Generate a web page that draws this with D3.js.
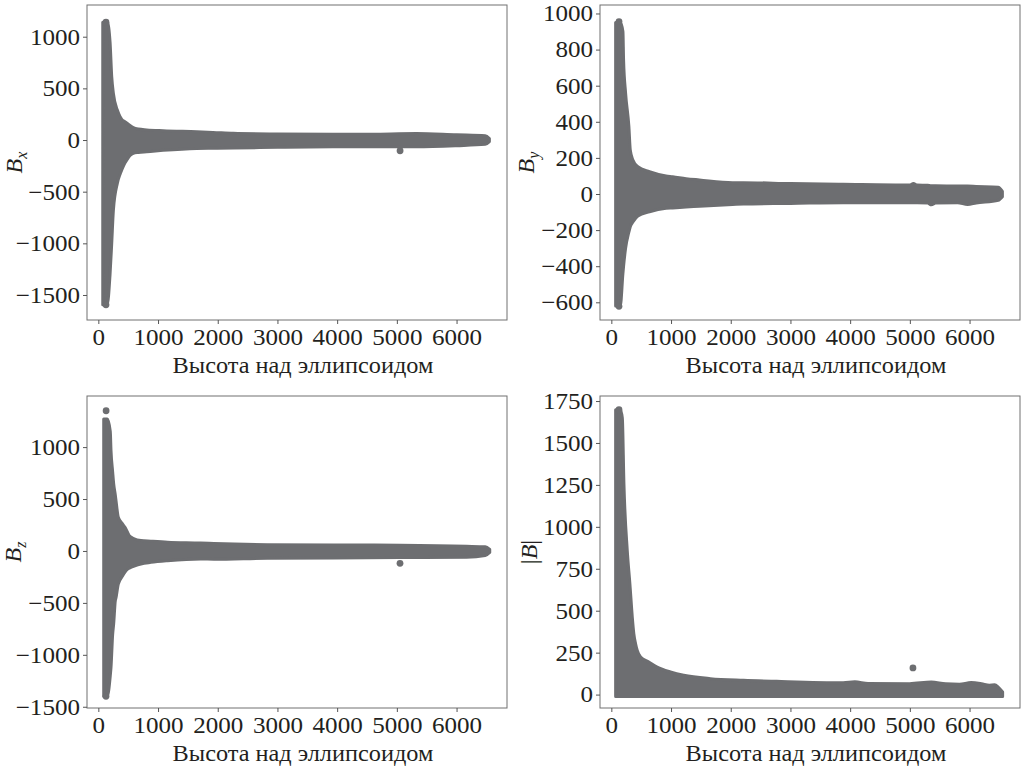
<!DOCTYPE html>
<html>
<head>
<meta charset="utf-8">
<script src="https://cdn.jsdelivr.net/npm/d3@7"></script>
<style>
  body { margin: 0; background: #fff; }
  svg text { font-family: "Liberation Serif", "Times New Roman", serif; fill: #231f20; }
</style>
</head>
<body>
<svg id="fig" width="1023" height="768"></svg>
<script>
// altitude ticks (shared by all panels)
const xTicks = [0, 1000, 2000, 3000, 4000, 5000, 6000];

// Bx: outer envelope of the point cloud
const bxH  = [74, 150, 196, 224, 252, 318, 364, 392, 447, 476, 531, 586, 670, 811, 1084, 1648, 1920, 2260, 3000, 3930, 4600, 5330, 6000, 6480, 6550];
const bxHi = [1140, 1140, 950, 613, 452, 290, 226, 200, 177, 165, 140, 120, 106, 98, 90, 80, 74, 65, 58, 55, 57, 62, 50, 42, 15];
const bxLo = [-1595, -1590, -1300, -1000, -678, -419, -330, -290, -220, -194, -150, -129, -120, -113, -100, -82, -80, -78, -70, -65, -65, -65, -55, -42, -15];
// single points standing out of the cloud
const bxDotH = [128, 128, 5054];
const bxDotV = [1140, -1595, -104];
const bxTicks = [-1500, -1000, -500, 0, 500, 1000];

// By
const byH  = [72, 150, 194, 205, 239, 294, 317, 361, 444, 639, 917, 1028, 1252, 1474, 2030, 2214, 3000, 3883, 4997, 5060, 5120, 5300, 5360, 5430, 5800, 5967, 6110, 6480, 6550];
const byHi = [950, 950, 900, 742, 558, 373, 244, 188, 151, 124, 100, 96, 85, 78, 63, 63, 58, 54, 50, 58, 50, 48, 46, 46, 44, 44, 42, 38, 15];
const byLo = [-620, -620, -440, -400, -300, -210, -181, -155, -122, -98, -79, -77, -72, -68, -58, -55, -52, -48, -48, -48, -48, -50, -60, -50, -48, -58, -50, -35, -15];
const byDotH = [128, 128];
const byDotV = [955, -622];
const byTicks = [-600, -400, -200, 0, 200, 400, 600, 800, 1000];

// Bz
const bzH  = [90, 150, 200, 212, 240, 257, 284, 296, 334, 407, 424, 462, 518, 546, 601, 713, 880, 1159, 1714, 1937, 2828, 3940, 5052, 6167, 6480, 6556];
const bzHi = [1270, 1270, 1150, 967, 760, 646, 540, 485, 325, 260, 245, 212, 148, 135, 116, 100, 94, 85, 77, 72, 61, 58, 55, 45, 40, 15];
const bzLo = [-1400, -1400, -1200, -1121, -800, -700, -479, -450, -318, -240, -222, -190, -165, -157, -145, -125, -110, -94, -77, -80, -70, -67, -64, -61, -45, -15];
const bzDotH = [130, 128, 5053];
const bzDotV = [1350, -1400, -119];
const bzTicks = [-1500, -1000, -500, 0, 500, 1000];

// |B|
const bmH  = [72, 150, 184, 211, 267, 311, 351, 377, 406, 434, 489, 628, 768, 990, 1212, 1658, 2214, 2770, 3883, 4079, 4300, 4997, 5359, 5600, 5831, 6027, 6200, 6332, 6420, 6480, 6554];
const bmHi = [1698, 1698, 1649, 1253, 857, 659, 461, 362, 303, 263, 224, 194, 164, 135, 115, 95, 85, 79, 71, 76, 66, 65, 75, 64, 62, 72, 65, 56, 58, 45, 16];
const bmLo = [-12, -12, -12, -12, -12, -12, -12, -12, -12, -12, -12, -12, -12, -12, -12, -12, -12, -12, -12, -12, -12, -12, -12, -12, -12, -12, -12, -12, -12, -12, -12];
const bmDotH = [128, 5052];
const bmDotV = [1698, 159];
const bmTicks = [0, 250, 500, 750, 1000, 1250, 1500, 1750];

const xTitle = 'Высота над эллипсоидом';
const pointColor = '#6d6e71';

const panels = [
  { h: bxH, hi: bxHi, lo: bxLo, dh: bxDotH, dv: bxDotV, ticks: bxTicks, yDomain: [-1742, 1307], sym: 'B', sub: 'x', box: [87, 5, 420, 315], labelX: 22 },
  { h: byH, hi: byHi, lo: byLo, dh: byDotH, dv: byDotV, ticks: byTicks, yDomain: [-698, 1047], sym: 'B', sub: 'y', box: [600, 5, 420, 315], labelX: 534 },
  { h: bzH, hi: bzHi, lo: bzLo, dh: bzDotH, dv: bzDotV, ticks: bzTicks, yDomain: [-1512, 1492], sym: 'B', sub: 'z', box: [87, 396, 420, 312], labelX: 21 },
  { h: bmH, hi: bmHi, lo: bmLo, dh: bmDotH, dv: bmDotV, ticks: bmTicks, yDomain: [-80, 1780], sym: '|B|', sub: null, box: [600, 396, 420, 312], labelX: 537 }
];

const svg = d3.select('#fig');
const fmt = d3.format('d');

// the printed glyphs are a bit wider than Liberation Serif
function widen(sel, k) {
  sel.each(function () {
    const n = this.getComputedTextLength();
    d3.select(this).attr('textLength', n * k).attr('lengthAdjust', 'spacingAndGlyphs');
  });
}

panels.forEach(p => {
  const [left, top, w, h] = p.box;
  const g = svg.append('g').attr('transform', `translate(${left},${top})`);

  const x = d3.scaleLinear().domain([-190, 6845]).range([0, w]);
  const y = d3.scaleLinear().domain(p.yDomain).range([h, 0]);

  const rows = p.h.map((v, i) => ({ h: v, hi: p.hi[i], lo: p.lo[i] }));

  const area = d3.area()
    .curve(d3.curveMonotoneX)
    .x(d => x(d.h))
    .y0(d => y(d.lo))
    .y1(d => y(d.hi));

  g.append('path')
    .datum(rows)
    .attr('d', area)
    .attr('fill', pointColor)
    .attr('stroke', pointColor)
    .attr('stroke-width', 3)
    .attr('stroke-linejoin', 'round');

  g.selectAll('circle.dot')
    .data(p.dh.map((v, i) => ({ h: v, v: p.dv[i] })))
    .enter().append('circle')
    .attr('class', 'dot')
    .attr('cx', d => x(d.h))
    .attr('cy', d => y(d.v))
    .attr('r', 3.4)
    .attr('fill', pointColor);

  // frame
  g.append('rect')
    .attr('width', w).attr('height', h)
    .attr('fill', 'none')
    .attr('stroke', '#707070')
    .attr('stroke-width', 1);

  const xAxis = g.append('g')
    .attr('transform', `translate(0,${h})`)
    .call(d3.axisBottom(x).tickValues(xTicks).tickFormat(fmt).tickSize(4).tickPadding(5));
  const yAxis = g.append('g')
    .call(d3.axisLeft(y).tickValues(p.ticks).tickFormat(fmt).tickSize(4).tickPadding(3));

  [xAxis, yAxis].forEach(a => {
    a.select('.domain').remove();
    a.selectAll('line').attr('stroke', '#555');
    a.selectAll('text')
      .attr('font-family', '"Liberation Serif", serif')
      .attr('font-size', 23)
      .attr('fill', '#231f20')
      .call(widen, 1.09);
  });

  g.append('text')
    .attr('x', w / 2 + 6)
    .attr('y', h + 53)
    .attr('text-anchor', 'middle')
    .attr('font-size', 22.5)
    .text(xTitle)
    .call(widen, 1.08);

  const lab = svg.append('text')
    .attr('transform', `translate(${p.labelX},${top + h / 2}) rotate(-90)`)
    .attr('text-anchor', 'middle')
    .attr('font-size', 24);
  if (p.sub) {
    lab.append('tspan').attr('font-style', 'italic').text(p.sym);
    lab.append('tspan').attr('font-style', 'italic').attr('font-size', 16).attr('dy', 5).text(p.sub);
  } else {
    lab.append('tspan').text('|');
    lab.append('tspan').attr('font-style', 'italic').text('B');
    lab.append('tspan').text('|');
  }
});
</script>
</body>
</html>
